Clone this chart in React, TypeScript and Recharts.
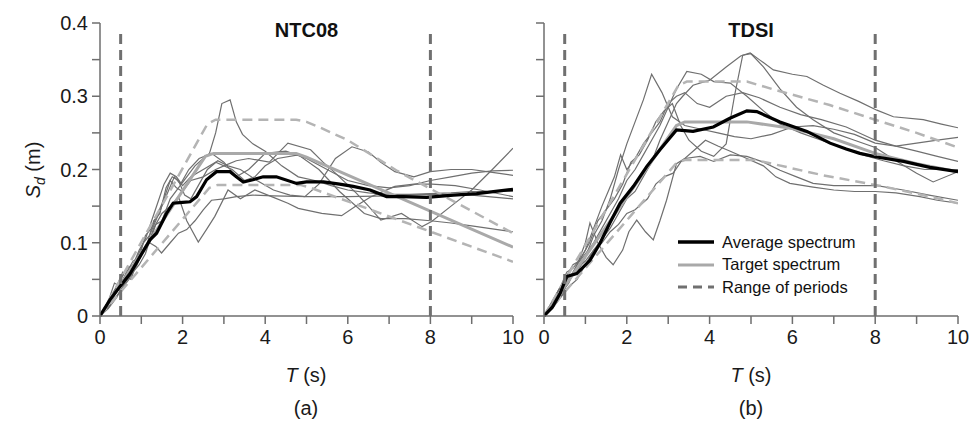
import { LineChart, Line, XAxis, YAxis, ReferenceLine, Label } from 'recharts';

type Pt = [number, number];

const periodTicks = [0, 1, 2, 3, 4, 5, 6, 7, 8, 9, 10];
const sdTicks = [0, 0.05, 0.1, 0.15, 0.2, 0.25, 0.3, 0.35, 0.4];
const periodRange = [0.5, 8];

// NTC08 panel
const ntcTarget: Pt[] = [[0, 0], [2.55, 0.218], [2.75, 0.222], [4.75, 0.222], [5.0, 0.217], [10, 0.094]];
const ntcUpper: Pt[] = [[0, 0], [2.6, 0.262], [2.8, 0.268], [4.75, 0.268], [5.0, 0.265], [5.3, 0.258], [6.0, 0.24], [7.2, 0.198], [10, 0.113]];
const ntcLower: Pt[] = [[0, 0], [2.65, 0.175], [2.85, 0.179], [4.85, 0.179], [5.1, 0.175], [10, 0.074]];
const ntcAverage: Pt[] = [
  [0, 0], [0.24, 0.022], [0.48, 0.04], [0.73, 0.058], [0.97, 0.081], [1.21, 0.104], [1.37, 0.113],
  [1.61, 0.14], [1.77, 0.154], [2.0, 0.155], [2.18, 0.156], [2.34, 0.163], [2.58, 0.186], [2.82, 0.197],
  [3.15, 0.197], [3.3, 0.19], [3.47, 0.183], [3.7, 0.186], [3.95, 0.19], [4.27, 0.19], [4.76, 0.181],
  [5.0, 0.183], [5.41, 0.183], [5.8, 0.18], [6.13, 0.177], [6.54, 0.172], [6.94, 0.163], [7.34, 0.163],
  [7.91, 0.162], [8.56, 0.165], [9.12, 0.167], [10, 0.173],
];
const ntcRecords: Pt[][] = [
  [[0, 0], [0.15, 0.012], [0.3, 0.03], [0.45, 0.04], [0.6, 0.055], [0.75, 0.05], [0.9, 0.075], [1.05, 0.09],
    [1.2, 0.1], [1.35, 0.125], [1.5, 0.13], [1.7, 0.16], [1.9, 0.175], [2.1, 0.19], [2.3, 0.205], [2.5, 0.215],
    [2.65, 0.222], [2.8, 0.25], [2.95, 0.29], [3.15, 0.295], [3.3, 0.265], [3.45, 0.248], [3.7, 0.235],
    [4.0, 0.225], [4.4, 0.205], [4.8, 0.19], [5.2, 0.185], [5.6, 0.178], [6.0, 0.172], [6.5, 0.168],
    [7.0, 0.166], [7.5, 0.166], [8.0, 0.167], [8.5, 0.168], [9.0, 0.17], [9.5, 0.17], [10, 0.17]],
  [[0, 0], [0.2, 0.015], [0.4, 0.04], [0.55, 0.06], [0.7, 0.055], [0.85, 0.07], [1.0, 0.085], [1.15, 0.1],
    [1.3, 0.13], [1.45, 0.14], [1.6, 0.175], [1.75, 0.19], [1.9, 0.185], [2.05, 0.165], [2.2, 0.16],
    [2.4, 0.18], [2.6, 0.2], [2.85, 0.212], [3.1, 0.205], [3.4, 0.2], [3.8, 0.185], [4.2, 0.172],
    [4.6, 0.165], [4.96, 0.163], [5.3, 0.18], [5.7, 0.215], [6.1, 0.231], [6.5, 0.224], [6.8, 0.21],
    [7.14, 0.197], [7.6, 0.19], [8.0, 0.197], [8.5, 0.2], [9.0, 0.2], [9.5, 0.196], [10, 0.192]],
  [[0, 0], [0.2, 0.02], [0.35, 0.045], [0.5, 0.04], [0.65, 0.06], [0.8, 0.075], [0.95, 0.08], [1.1, 0.11],
    [1.25, 0.12], [1.4, 0.14], [1.55, 0.16], [1.7, 0.185], [1.85, 0.175], [2.0, 0.17], [2.2, 0.185],
    [2.5, 0.19], [2.8, 0.2], [3.0, 0.205], [3.3, 0.212], [3.6, 0.215], [4.1, 0.21], [4.55, 0.236],
    [5.1, 0.227], [5.4, 0.21], [5.7, 0.195], [6.2, 0.168], [6.5, 0.15], [6.8, 0.131], [7.3, 0.14],
    [7.8, 0.122], [8.03, 0.129], [8.5, 0.15], [9.0, 0.172], [9.5, 0.2], [10, 0.229]],
  [[0, 0], [0.2, 0.01], [0.4, 0.025], [0.6, 0.045], [0.8, 0.06], [0.95, 0.07], [1.1, 0.085], [1.3, 0.12],
    [1.5, 0.14], [1.7, 0.15], [1.9, 0.163], [2.1, 0.13], [2.38, 0.101], [2.6, 0.12], [2.78, 0.136],
    [3.1, 0.172], [3.4, 0.16], [3.75, 0.172], [4.2, 0.162], [4.55, 0.154], [4.8, 0.147], [5.37, 0.14],
    [5.85, 0.137], [6.17, 0.149], [6.57, 0.163], [7.14, 0.177], [7.6, 0.18], [8.04, 0.18], [8.6, 0.178],
    [9.2, 0.172], [10, 0.163]],
  [[0, 0], [0.25, 0.015], [0.5, 0.035], [0.7, 0.05], [0.9, 0.07], [1.05, 0.09], [1.2, 0.1], [1.35, 0.095],
    [1.49, 0.086], [1.7, 0.1], [1.9, 0.113], [2.1, 0.118], [2.3, 0.13], [2.5, 0.145], [2.7, 0.158],
    [3.0, 0.16], [3.3, 0.163], [3.7, 0.165], [4.2, 0.164], [5.0, 0.163], [6.0, 0.163], [7.0, 0.164],
    [8.0, 0.166], [9.0, 0.165], [10, 0.16]],
  [[0, 0], [0.2, 0.02], [0.35, 0.035], [0.5, 0.05], [0.65, 0.065], [0.8, 0.07], [0.95, 0.09], [1.1, 0.105],
    [1.25, 0.13], [1.4, 0.155], [1.55, 0.18], [1.7, 0.195], [1.85, 0.19], [2.0, 0.178], [2.2, 0.19],
    [2.5, 0.2], [2.8, 0.21], [3.2, 0.2], [3.5, 0.185], [3.75, 0.19], [4.0, 0.205], [4.3, 0.215],
    [4.8, 0.22], [5.3, 0.2], [5.8, 0.17], [6.4, 0.14], [6.8, 0.133], [7.4, 0.133], [8.0, 0.13],
    [8.5, 0.127], [9.0, 0.123], [9.5, 0.119], [10, 0.115]],
  [[0, 0], [0.15, 0.015], [0.3, 0.02], [0.45, 0.045], [0.6, 0.06], [0.75, 0.065], [0.9, 0.08], [1.05, 0.1],
    [1.2, 0.11], [1.35, 0.13], [1.5, 0.15], [1.65, 0.17], [1.8, 0.19], [1.95, 0.18], [2.15, 0.2],
    [2.4, 0.215], [2.7, 0.222], [3.0, 0.21], [3.3, 0.19], [3.6, 0.2], [4.0, 0.222], [4.5, 0.225],
    [5.0, 0.215], [5.5, 0.2], [6.0, 0.185], [6.5, 0.178], [7.0, 0.175], [7.5, 0.178], [8.0, 0.185],
    [8.5, 0.19], [9.0, 0.195], [9.5, 0.198], [10, 0.199]],
];

// TDSI panel
const tdsiTarget: Pt[] = [[0, 0], [3.2, 0.26], [3.4, 0.265], [4.9, 0.265], [6.0, 0.256], [7.0, 0.242], [8.0, 0.222], [9.0, 0.208], [10, 0.197]];
const tdsiUpper: Pt[] = [[0, 0], [3.25, 0.315], [3.45, 0.32], [4.9, 0.32], [5.5, 0.31], [6.9, 0.288], [8.0, 0.268], [9.0, 0.25], [10, 0.23]];
const tdsiLower: Pt[] = [[0, 0], [3.2, 0.209], [3.4, 0.213], [5.1, 0.213], [6.75, 0.192], [8.0, 0.179], [9.0, 0.167], [10, 0.154]];
const tdsiAverage: Pt[] = [
  [0, 0], [0.2, 0.012], [0.39, 0.031], [0.55, 0.054], [0.79, 0.058], [1.11, 0.076], [1.35, 0.099],
  [1.59, 0.127], [1.84, 0.154], [2.16, 0.177], [2.48, 0.204], [2.8, 0.227], [3.2, 0.254], [3.4, 0.253],
  [3.6, 0.252], [4.09, 0.258], [4.49, 0.27], [4.9, 0.28], [5.14, 0.279], [5.7, 0.265], [6.35, 0.252],
  [6.91, 0.236], [7.3, 0.228], [7.63, 0.222], [8.04, 0.217], [8.68, 0.211], [9.32, 0.203], [10, 0.197],
];
const tdsiRecords: Pt[][] = [
  [[0, 0], [0.2, 0.015], [0.4, 0.03], [0.6, 0.055], [0.8, 0.06], [1.0, 0.08], [1.2, 0.11], [1.4, 0.13],
    [1.6, 0.16], [1.8, 0.2], [2.0, 0.235], [2.2, 0.265], [2.4, 0.295], [2.6, 0.33], [2.85, 0.305],
    [3.1, 0.272], [3.4, 0.26], [3.8, 0.255], [4.2, 0.25], [4.6, 0.245], [5.0, 0.242], [5.5, 0.248],
    [6.0, 0.258], [6.5, 0.26], [7.0, 0.255], [7.5, 0.248], [8.0, 0.236], [8.5, 0.232], [9.0, 0.236],
    [9.5, 0.24], [10, 0.244]],
  [[0, 0], [0.2, 0.01], [0.4, 0.025], [0.6, 0.04], [0.8, 0.05], [1.0, 0.07], [1.2, 0.09], [1.4, 0.105],
    [1.6, 0.12], [1.8, 0.14], [2.0, 0.16], [2.2, 0.17], [2.4, 0.19], [2.6, 0.21], [2.8, 0.24], [3.0, 0.265],
    [3.2, 0.29], [3.35, 0.3], [3.6, 0.315], [4.0, 0.322], [4.4, 0.34], [4.75, 0.355], [4.98, 0.359],
    [5.2, 0.35], [5.54, 0.336], [6.0, 0.33], [6.35, 0.327], [6.75, 0.315], [7.15, 0.304], [7.6, 0.293],
    [8.04, 0.281], [8.44, 0.272], [9.16, 0.268], [9.6, 0.262], [10, 0.257]],
  [[0, 0], [0.2, 0.02], [0.4, 0.04], [0.55, 0.06], [0.7, 0.065], [0.9, 0.08], [1.1, 0.1], [1.3, 0.13],
    [1.5, 0.145], [1.7, 0.16], [1.9, 0.18], [2.1, 0.21], [2.3, 0.22], [2.5, 0.24], [2.7, 0.265], [2.9, 0.28],
    [3.1, 0.29], [3.3, 0.26], [3.5, 0.24], [3.8, 0.225], [4.1, 0.218], [4.4, 0.235], [4.6, 0.3],
    [4.8, 0.356], [5.0, 0.358], [5.3, 0.34], [5.7, 0.31], [6.1, 0.285], [6.5, 0.268], [7.0, 0.25],
    [7.5, 0.24], [8.0, 0.23], [8.5, 0.212], [9.0, 0.195], [9.4, 0.183], [10, 0.197]],
  [[0, 0], [0.2, 0.018], [0.35, 0.035], [0.5, 0.05], [0.7, 0.07], [0.85, 0.075], [1.0, 0.09], [1.2, 0.12],
    [1.4, 0.15], [1.55, 0.17], [1.7, 0.19], [1.85, 0.22], [2.0, 0.2], [2.2, 0.215], [2.4, 0.235],
    [2.6, 0.25], [2.8, 0.265], [3.0, 0.29], [3.2, 0.3], [3.4, 0.305], [3.7, 0.29], [4.0, 0.285],
    [4.4, 0.3], [4.8, 0.305], [5.2, 0.298], [5.7, 0.285], [6.2, 0.275], [6.7, 0.268], [7.3, 0.258],
    [8.0, 0.24], [8.5, 0.232], [9.0, 0.225], [9.5, 0.218], [10, 0.211]],
  [[0, 0], [0.2, 0.01], [0.4, 0.03], [0.6, 0.045], [0.8, 0.07], [1.0, 0.1], [1.11, 0.127], [1.3, 0.1],
    [1.5, 0.08], [1.67, 0.07], [1.9, 0.09], [2.05, 0.115], [2.24, 0.131], [2.45, 0.115], [2.64, 0.104],
    [2.8, 0.13], [2.96, 0.158], [3.2, 0.208], [3.4, 0.215], [3.77, 0.218], [4.1, 0.211], [4.5, 0.22],
    [4.9, 0.218], [5.3, 0.21], [5.7, 0.199], [6.1, 0.19], [6.5, 0.181], [7.0, 0.178], [7.5, 0.178],
    [8.04, 0.178], [8.68, 0.172], [9.3, 0.165], [10, 0.158]],
  [[0, 0], [0.25, 0.015], [0.45, 0.03], [0.6, 0.05], [0.8, 0.065], [1.0, 0.075], [1.2, 0.09], [1.4, 0.1],
    [1.6, 0.115], [1.8, 0.125], [2.0, 0.14], [2.2, 0.145], [2.5, 0.16], [2.7, 0.18], [2.9, 0.19],
    [3.12, 0.195], [3.3, 0.21], [3.6, 0.225], [3.9, 0.24], [4.2, 0.232], [4.5, 0.225], [4.9, 0.215],
    [5.3, 0.205], [5.6, 0.19], [5.94, 0.181], [6.5, 0.176], [7.0, 0.172], [7.5, 0.17], [8.0, 0.17],
    [8.5, 0.168], [9.08, 0.163], [9.5, 0.158], [10, 0.154]],
  [[0, 0], [0.2, 0.02], [0.4, 0.04], [0.6, 0.05], [0.8, 0.07], [1.0, 0.085], [1.2, 0.1], [1.4, 0.12],
    [1.6, 0.14], [1.8, 0.16], [2.0, 0.185], [2.2, 0.2], [2.4, 0.22], [2.6, 0.24], [2.8, 0.26], [3.0, 0.285],
    [3.2, 0.31], [3.45, 0.334], [3.8, 0.33], [4.1, 0.32], [4.5, 0.318], [4.9, 0.3], [5.3, 0.28],
    [5.7, 0.262], [6.2, 0.25], [6.7, 0.24], [7.2, 0.23], [7.7, 0.22], [8.2, 0.212], [8.7, 0.205],
    [9.2, 0.2], [10, 0.2]],
];

const legendItems = ['Average spectrum', 'Target spectrum', 'Range of periods'];

const FONT = '"Liberation Sans Narrow", "Arial Narrow", "Liberation Sans", Arial, sans-serif';
const AXIS = '#6e6e6e';
const RECORD = '#6f6f6f';
const TARGET = '#a9a9a9';
const BOUND = '#b4b4b4';
const RANGE = '#707070';

const rows = (pts: Pt[]) => pts.map(([t, sd]) => ({ t, sd }));

const fmtT = (v: number) => (v % 2 === 0 ? String(v) : '');
const fmtSd = (v: number) => {
  const k = Math.round(v * 100);
  if (k % 10 !== 0) return '';
  return k === 0 ? '0' : (k / 100).toFixed(1);
};

const legendStyles = [
  { color: '#000', dash: undefined, w: 3.5 },
  { color: TARGET, dash: undefined, w: 3 },
  { color: RANGE, dash: '9 6', w: 3 },
];

function LegendBox() {
  return (
    <div
      style={{
        position: 'absolute',
        left: 158,
        top: 231,
        fontFamily: 'Arial, "Liberation Sans", sans-serif',
        fontSize: 16.5,
        color: '#111',
      }}
    >
      {legendItems.map((label, i) => (
        <div key={label} style={{ display: 'flex', alignItems: 'center', height: 22.5, whiteSpace: 'nowrap' }}>
          <svg width={44} height={10}>
            <line
              x1={0}
              y1={5}
              x2={36}
              y2={5}
              stroke={legendStyles[i].color}
              strokeWidth={legendStyles[i].w}
              strokeDasharray={legendStyles[i].dash}
            />
          </svg>
          <span>{label}</span>
        </div>
      ))}
    </div>
  );
}

function Panel({
  title,
  records,
  target,
  upper,
  lower,
  average,
  left,
  width,
  marginLeft,
  yWidth,
  marginRight,
  showYLabels,
  caption,
  centerX,
  legend,
}: {
  title: string;
  records: Pt[][];
  target: Pt[];
  upper: Pt[];
  lower: Pt[];
  average: Pt[];
  left: number;
  width: number;
  marginLeft: number;
  yWidth: number;
  marginRight: number;
  showYLabels: boolean;
  caption: string;
  centerX: number;
  legend: boolean;
}) {
  return (
    <div style={{ position: 'absolute', left, top: 0, width, height: 422 }}>
      <LineChart
        width={width}
        height={422}
        margin={{ top: 23, right: marginRight, bottom: 66, left: marginLeft }}
        style={{ fontFamily: FONT }}
      >
        <XAxis
          dataKey="t"
          type="number"
          domain={[0, 10]}
          ticks={periodTicks}
          tickFormatter={fmtT}
          interval={0}
          allowDataOverflow
          stroke={AXIS}
          strokeWidth={1.5}
          tickSize={8}
          tickMargin={6}
          height={40}
          tick={{ fill: '#1a1a1a', fontSize: 20 }}
        >
          <Label
            content={() => (
              <g>
                <text x={centerX} y={382} textAnchor="middle" fontSize={20} fill="#1a1a1a" fontFamily={FONT}>
                  <tspan fontStyle="italic">T</tspan> (s)
                </text>
                <text x={centerX} y={415} textAnchor="middle" fontSize={20} fill="#1a1a1a" fontFamily={FONT}>
                  {caption}
                </text>
              </g>
            )}
          />
        </XAxis>
        <YAxis
          type="number"
          domain={[0, 0.4]}
          ticks={sdTicks}
          tickFormatter={showYLabels ? fmtSd : () => ''}
          interval={0}
          stroke={AXIS}
          strokeWidth={1.5}
          tickSize={8}
          tickMargin={4}
          width={yWidth}
          tick={{ fill: '#1a1a1a', fontSize: 20 }}
        >
          {showYLabels && (
            <Label
              content={() => (
                <text
                  x={40}
                  y={170}
                  transform="rotate(-90, 40, 170)"
                  textAnchor="middle"
                  fontSize={20}
                  fill="#1a1a1a"
                  fontFamily={FONT}
                >
                  <tspan fontStyle="italic">S</tspan>
                  <tspan fontStyle="italic" fontSize={14} dy={5}>d</tspan>
                  <tspan dy={-5}> (m)</tspan>
                </text>
              )}
            />
          )}
        </YAxis>
        {records.map((r, i) => (
          <Line
            key={`rec${i}`}
            data={rows(r)}
            dataKey="sd"
            type="linear"
            stroke={RECORD}
            strokeWidth={1.2}
            dot={false}
            isAnimationActive={false}
          />
        ))}
        <Line data={rows(upper)} dataKey="sd" type="linear" stroke={BOUND} strokeWidth={2.5} strokeDasharray="10 6" dot={false} isAnimationActive={false} />
        <Line data={rows(lower)} dataKey="sd" type="linear" stroke={BOUND} strokeWidth={2.5} strokeDasharray="10 6" dot={false} isAnimationActive={false} />
        <Line data={rows(target)} dataKey="sd" type="linear" stroke={TARGET} strokeWidth={3} dot={false} isAnimationActive={false} />
        <Line data={rows(average)} dataKey="sd" type="linear" stroke="#000" strokeWidth={3.2} dot={false} isAnimationActive={false} />
        {periodRange.map((p) => (
          <ReferenceLine
            key={`rng${p}`}
            segment={[{ x: p, y: 0 }, { x: p, y: 0.39 }]}
            stroke={RANGE}
            strokeWidth={3}
            strokeDasharray="10 6"
          />
        ))}
        <ReferenceLine
          y={0.4}
          stroke="none"
          label={{ value: title, position: 'insideTop', offset: 0, fontSize: 20, fontWeight: 700, fill: '#111', fontFamily: 'Arial, "Liberation Sans", sans-serif' }}
        />
      </LineChart>
      {legend && <LegendBox />}
    </div>
  );
}

export default function App() {
  return (
    <div style={{ position: 'absolute', left: 0, top: 0, width: 972, height: 422, background: '#fff' }}>
      <Panel
        title="NTC08"
        records={ntcRecords}
        target={ntcTarget}
        upper={ntcUpper}
        lower={ntcLower}
        average={ntcAverage}
        left={0}
        width={530}
        marginLeft={40}
        yWidth={60}
        marginRight={17}
        showYLabels
        caption="(a)"
        centerX={306}
        legend={false}
      />
      <Panel
        title="TDSI"
        records={tdsiRecords}
        target={tdsiTarget}
        upper={tdsiUpper}
        lower={tdsiLower}
        average={tdsiAverage}
        left={520}
        width={452}
        marginLeft={14}
        yWidth={10}
        marginRight={14}
        showYLabels={false}
        caption="(b)"
        centerX={231}
        legend
      />
    </div>
  );
}
